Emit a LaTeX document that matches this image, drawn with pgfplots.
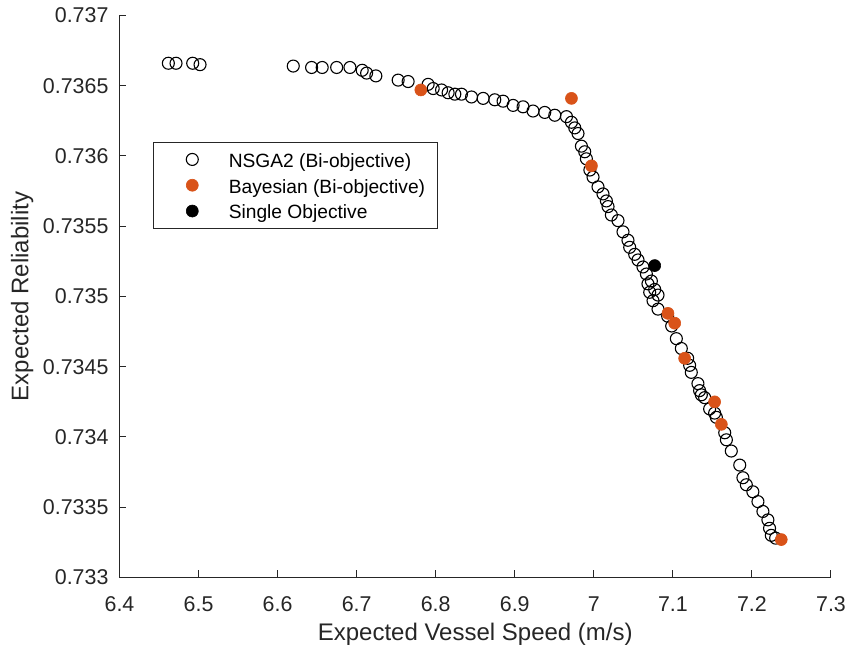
\documentclass[border=0pt]{standalone}
\usepackage{fontspec}
\setmainfont{Liberation Sans}
\usepackage{pgfplots}
\pgfplotsset{compat=1.18}
\definecolor{axgray}{HTML}{262626}
\definecolor{mlorange}{HTML}{D95319}

% legend image: the mark sits 15pt into a 31pt wide cell
\pgfplotsset{
  leg img/.style={legend image code/.code={%
    \path (0pt,0pt) (31pt,0pt);
    \draw[mark repeat=2,mark phase=2,##1] plot coordinates {(0pt,0pt) (15pt,0pt) (30pt,0pt)};}},
}

\begin{document}
\begin{tikzpicture}
\path[use as bounding box] (-59.75pt,-36.85pt) rectangle (365.75pt,288.75pt);
\begin{axis}[
    scale only axis, width=355.75pt, height=281pt,
    xmin=6.4, xmax=7.3, ymin=0.733, ymax=0.737,
    axis x line*=bottom, axis y line*=left,
    axis line style={axgray, line width=0.5pt, -},
    tick align=inside, major tick length=3.5pt,
    tick style={axgray, line width=0.5pt},
    xtick={6.4,6.5,6.6,6.7,6.8,6.9,7,7.1,7.2,7.3},
    ytick={0.733,0.7335,0.734,0.7345,0.735,0.7355,0.736,0.7365,0.737},
    scaled x ticks=false, scaled y ticks=false,
    /pgf/number format/assume math mode=true,
    xticklabel style={font=\fontsize{10.7}{12}\selectfont, color=axgray, yshift=-6pt,
      /pgf/number format/fixed, /pgf/number format/precision=1},
    yticklabel style={font=\fontsize{10.7}{12}\selectfont, color=axgray, xshift=-2pt,
      /pgf/number format/fixed, /pgf/number format/precision=4},
    xlabel={Expected Vessel Speed (m/s)},
    ylabel={Expected Reliability},
    label style={font=\fontsize{12}{14}\selectfont, color=axgray},
    xlabel style={at={(axis description cs:0.5,-0.1116)}, anchor=base},
    ylabel style={at={(axis description cs:-0.1282,0.5)}, anchor=base, rotate=0},
    legend cell align=left,
    legend style={at={(axis description cs:0.0475,0.775)}, anchor=north west,
      draw=axgray, line width=0.5pt, font=\fontsize{9.6}{11}\selectfont,
      inner xsep=4pt, inner ysep=2.3pt, row sep=0.5pt,
      nodes={inner ysep=1.5pt, text height=8.6pt, text depth=0.8pt}},
  ]
  \addplot[only marks, mark=o, mark size=3pt, mark options={draw=black, line width=0.55pt}, leg img]
  coordinates {
    (6.4618,0.73666) (6.4715,0.73666) (6.4926,0.73666) (6.5019,0.73665)
    (6.6198,0.73664) (6.6430,0.73663) (6.6564,0.73663) (6.6747,0.73663)
    (6.6915,0.73663) (6.7070,0.73661) (6.7126,0.73659) (6.7243,0.73657)
    (6.7525,0.73654) (6.7651,0.73653) (6.7904,0.73651) (6.7968,0.73648)
    (6.8074,0.73647) (6.8157,0.73645) (6.8242,0.73644) (6.8326,0.73644)
    (6.8453,0.73642) (6.8600,0.73641) (6.8747,0.73640) (6.8852,0.73639)
    (6.8979,0.73636) (6.9105,0.73635) (6.9231,0.73632) (6.9379,0.73631)
    (6.9506,0.73629) (6.9654,0.73628) (6.9717,0.73624) (6.9759,0.73620)
    (6.9800,0.73616) (6.9843,0.73607) (6.9885,0.73603) (6.9906,0.73598)
    (6.9950,0.73590) (6.9990,0.73585) (7.0053,0.73578) (7.0116,0.73573)
    (7.0159,0.73568) (7.0180,0.73564) (7.0222,0.73558) (7.0306,0.73554)
    (7.0369,0.73546) (7.0432,0.73540) (7.0454,0.73535) (7.0517,0.73530)
    (7.0559,0.73526) (7.0622,0.73521) (7.0665,0.73516) (7.0728,0.73511)
    (7.0685,0.73509) (7.0770,0.73505) (7.0707,0.73503) (7.0812,0.73501)
    (7.0749,0.73497) (7.0812,0.73491) (7.0934,0.73486) (7.0985,0.73479)
    (7.1044,0.73470) (7.1107,0.73463) (7.1187,0.73456) (7.1212,0.73451)
    (7.1233,0.73446) (7.1317,0.73438) (7.1338,0.73433) (7.1360,0.73430)
    (7.1402,0.73428) (7.1465,0.73420) (7.1528,0.73417) (7.1550,0.73414)
    (7.1656,0.73403) (7.1677,0.73398) (7.1739,0.73390) (7.1846,0.73380)
    (7.1886,0.73371) (7.1929,0.73366) (7.2012,0.73361) (7.2076,0.73354)
    (7.2139,0.73347) (7.2202,0.73341) (7.2223,0.73335) (7.2245,0.73330)
    (7.2300,0.73328)
  };
  \addlegendentry{NSGA2 (Bi-objective)}
  \addplot[only marks, mark=*, mark size=3pt, mark options={draw=mlorange, fill=mlorange, line width=0.3pt}, leg img]
  coordinates {
    (6.7812,0.73647) (6.9717,0.73641) (6.9970,0.73593) (7.0938,0.73488)
    (7.1023,0.73481) (7.1149,0.73456) (7.1528,0.73425) (7.1613,0.73409)
    (7.2371,0.73327)
  };
  \addlegendentry{Bayesian (Bi-objective)}
  \addplot[only marks, mark=*, mark size=3pt, mark options={draw=black, fill=black, line width=0.3pt}, leg img]
  coordinates {(7.0770,0.73522)};
  \addlegendentry{Single Objective}
\end{axis}
\end{tikzpicture}
\end{document}
